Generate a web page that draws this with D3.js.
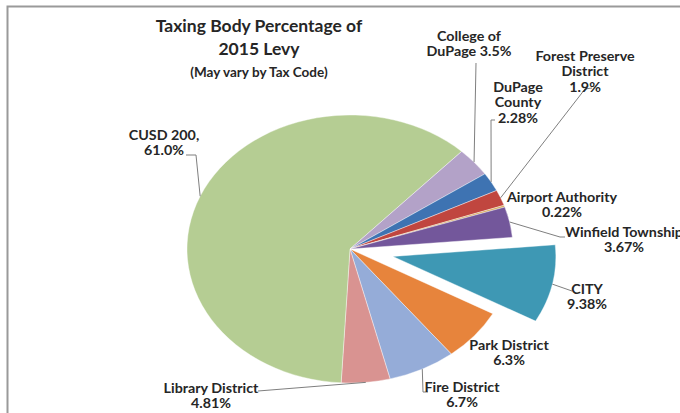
<!DOCTYPE html>
<html>
<head>
<meta charset="utf-8">
<script src="https://cdn.jsdelivr.net/npm/d3@7"></script>
<style>
  html, body { margin: 0; padding: 0; background: #fff; overflow: hidden; }
  svg { display: block; }
</style>
</head>
<body>
<div id="chart"></div>
<script>
// Taxing body shares of the 2015 levy, in drawing order (clockwise from CITY)
const bodies = ["CITY", "Park District", "Fire District", "Library District", "CUSD 200",
    "College of DuPage", "DuPage County", "Forest Preserve District", "Airport Authority", "Winfield Township"];
const shares = [9.38, 6.3, 6.7, 4.81, 61.0, 3.5, 2.28, 1.9, 0.22, 3.67];
const exploded = ["CITY"];
const colors = ["#3e98b4", "#e7843c", "#95acd8", "#d99391", "#b5cd93",
    "#b3a2c8", "#3e73b2", "#c0463f", "#d6a85a", "#73579b"];

// label text lines
const labelLines = [
    ["CITY", "9.38%"],
    ["Park District", "6.3%"],
    ["Fire District", "6.7%"],
    ["Library District", "4.81%"],
    ["CUSD 200,", "61.0%"],
    ["College of", "DuPage 3.5%"],
    ["DuPage", "County", "2.28%"],
    ["Forest Preserve", "District", "1.9%"],
    ["Airport Authority", "0.22%"],
    ["Winfield Township", "3.67%"]
];
// label layout: centre x, first baseline, leader points after the slice rim
const labelPos = [
    { x: 587, y: 294, leader: [[572, 291]] },
    { x: 509, y: 350, leader: [] },
    { x: 462, y: 392, leader: [[423, 392], [428, 392]] },
    { x: 211, y: 393, leader: [[258, 391]] },
    { x: 164, y: 140, leader: [[196, 155], [186, 155]] },
    { x: 469, y: 41, leader: [[476, 63]] },
    { x: 518, y: 92, leader: [[491, 120], [495, 120]] },
    { x: 585, y: 61, leader: [[585, 89], [592, 88]] },
    { x: 562, y: 202, leader: [] },
    { x: 624, y: 237, leader: [[560, 237], [565, 237]] }
];

const width = 680, height = 413;
const cx = 350, cy = 249, ry = 134, rx = 163;
const sx = rx / ry;
const explodeDist = 36;
const startDeg = 85;
const textStretch = 1.1;

const svg = d3.select("#chart").append("svg")
    .attr("width", width)
    .attr("height", height)
    .attr("viewBox", `0 0 ${width} ${height}`);

// chart frame (only the top and left edges fall inside the picture)
svg.append("path")
    .attr("d", `M7.5,${height} V6.5 H${width}`)
    .attr("fill", "none")
    .attr("stroke", "#9a9a9a")
    .attr("stroke-width", 2);

const fontFam = "Lato, 'Open Sans', sans-serif";

const title = svg.append("g").attr("fill", "#262626").attr("font-family", fontFam)
    .attr("font-weight", 700).attr("text-anchor", "middle");
title.append("text").attr("x", 259).attr("y", 32).attr("font-size", "17.5px").text("Taxing Body Percentage of");
title.append("text").attr("x", 259).attr("y", 55).attr("font-size", "17.5px").text("2015 Levy");
title.append("text").attr("x", 259).attr("y", 77).attr("font-size", "13.5px").text("(May vary by Tax Code)");

const pie = d3.pie()
    .sort(null)
    .value(d => d)
    .startAngle(startDeg * Math.PI / 180)
    .endAngle(startDeg * Math.PI / 180 + 2 * Math.PI);

const arcs = pie(shares);
const arc = d3.arc().innerRadius(0).outerRadius(ry);

// offset of exploded slices along the mid-angle, in unstretched units
function shift(d, i) {
    if (!exploded.includes(bodies[i])) return [0, 0];
    const a = (d.startAngle + d.endAngle) / 2;
    return [Math.sin(a) * explodeDist, -Math.cos(a) * explodeDist];
}

const pieG = svg.append("g")
    .attr("transform", `translate(${cx},${cy}) scale(${sx},1)`);

pieG.selectAll("path")
    .data(arcs)
    .enter()
    .append("path")
    .attr("d", arc)
    .attr("transform", (d, i) => {
        const [dx, dy] = shift(d, i);
        return `translate(${dx},${dy})`;
    })
    .attr("fill", (d, i) => colors[i])
    .attr("stroke", "#fff")
    .attr("stroke-width", 0.4)
    .attr("vector-effect", "non-scaling-stroke");

// point on the slice rim at its mid-angle, in page coordinates
function rimPoint(d, i) {
    const a = (d.startAngle + d.endAngle) / 2;
    const [dx, dy] = shift(d, i);
    const px = (Math.sin(a) * ry + dx) * sx + cx;
    const py = -Math.cos(a) * ry + dy + cy;
    return [px, py];
}

const leaders = svg.append("g");
arcs.forEach((d, i) => {
    if (!labelPos[i].leader.length) return;
    const pts = [rimPoint(d, i)].concat(labelPos[i].leader);
    leaders.append("path")
        .attr("d", d3.line()(pts))
        .attr("fill", "none")
        .attr("stroke", "#7f7f7f")
        .attr("stroke-width", 1);
});

const labels = svg.append("g")
    .attr("font-family", fontFam)
    .attr("font-size", "13px")
    .attr("font-weight", 700)
    .attr("fill", "#262626")
    .attr("text-anchor", "middle");

labelLines.forEach((lines, i) => {
    const t = labels.append("text")
        .attr("transform", `translate(${labelPos[i].x},${labelPos[i].y}) scale(${textStretch},1)`);
    lines.forEach((line, k) => {
        t.append("tspan")
            .attr("x", 0)
            .attr("dy", k === 0 ? 0 : 15.5)
            .text(line);
    });
});
</script>
</body>
</html>
